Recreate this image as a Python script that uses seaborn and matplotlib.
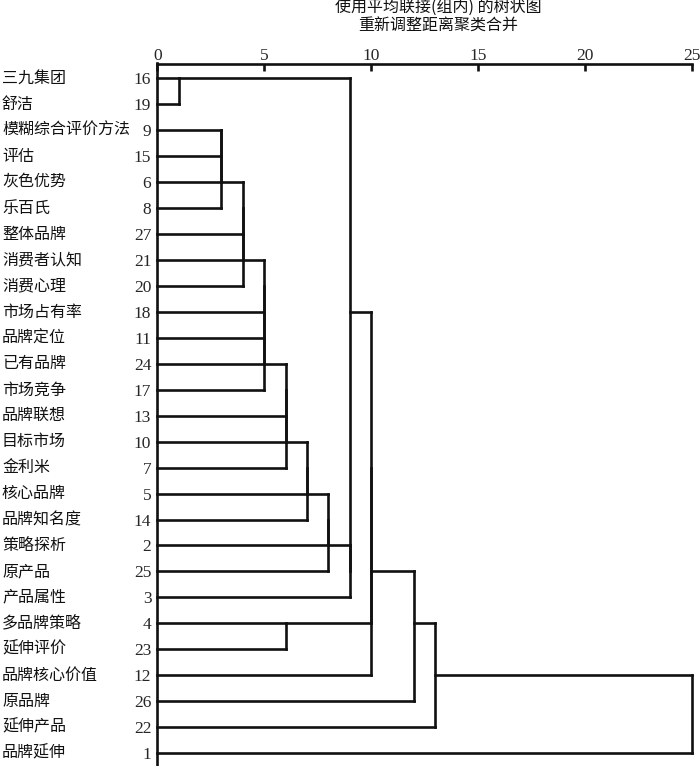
import numpy as np
import pandas as pd
import matplotlib
matplotlib.use("Agg")
import matplotlib.pyplot as plt
import matplotlib.transforms as mtransforms
import seaborn as sns

# ---------------- data ----------------
names = ["三九集团", "舒洁", "模糊综合评价方法", "评估", "灰色优势", "乐百氏",
         "整体品牌", "消费者认知", "消费心理", "市场占有率", "品牌定位", "已有品牌",
         "市场竞争", "品牌联想", "目标市场", "金利米", "核心品牌", "品牌知名度",
         "策略探析", "原产品", "产品属性", "多品牌策略", "延伸评价", "品牌核心价值",
         "原品牌", "延伸产品", "品牌延伸"]
case_ids = [16, 19, 9, 15, 6, 8, 27, 21, 20, 18, 11, 24, 17, 13, 10, 7, 5, 14,
            2, 25, 3, 4, 23, 12, 26, 22, 1]

# agglomeration schedule (clusters referenced by any member case), rescaled distance
merge_a = [16, 9, 9, 9, 9, 9, 9, 9, 9, 9, 9, 9, 9, 9, 4, 9, 9, 9, 9, 9, 16, 16, 16, 16, 16, 16]
merge_b = [19, 15, 6, 8, 27, 21, 20, 18, 11, 24, 17, 13, 10, 7, 23, 5, 14, 2, 25, 3, 9, 4, 12, 26, 22, 1]
merge_dist = [1, 3, 3, 3, 4, 4, 4, 5, 5, 5, 5, 6, 6, 6, 6, 7, 7, 8, 8, 9, 9, 10, 10, 12, 13, 25]

axis_ticks = [0, 5, 10, 15, 20, 25]
title1 = "使用平均联接(组内) 的树状图"
title2 = "重新调整距离聚类合并"

# ---------------- build dendrogram segments ----------------
row_of = {c: i for i, c in enumerate(case_ids)}
member_cluster = {c: c for c in case_ids}
cl_rep = {c: row_of[c] for c in case_ids}
cl_created = {c: 0.0 for c in case_ids}
cl_members = {c: [c] for c in case_ids}

recs = []
seg = 0
next_id = 1000
for a, b, d in zip(merge_a, merge_b, merge_dist):
    ca, cb = member_cluster[a], member_cluster[b]
    for c in (ca, cb):
        recs.append((seg, cl_created[c], cl_rep[c])); recs.append((seg, d, cl_rep[c])); seg += 1
    recs.append((seg, d, cl_rep[ca])); recs.append((seg, d, cl_rep[cb])); seg += 1
    nid = next_id; next_id += 1
    cl_rep[nid] = (cl_rep[ca] + cl_rep[cb]) // 2
    cl_created[nid] = d
    cl_members[nid] = cl_members[ca] + cl_members[cb]
    for m in cl_members[nid]:
        member_cluster[m] = nid

df = pd.DataFrame(recs, columns=["seg", "dist", "row"])

# ---------------- figure ----------------
sns.set_theme(style="white")
plt.rcParams["font.family"] = ["Noto Sans CJK SC", "DejaVu Sans"]

W, H = 700, 766
fig = plt.figure(figsize=(W / 100, H / 100), dpi=100)
x0px, x25px, toppx = 157.3, 691.7, 63.5
ax = fig.add_axes([x0px / W, 0, (x25px - x0px) / W, (H - toppx) / H])

sns.lineplot(data=df, x="dist", y="row", units="seg", estimator=None, sort=False,
             color="#111111", linewidth=1.9, legend=False, ax=ax,
             solid_capstyle="projecting")
for ln in ax.lines:
    ln.set_clip_on(False)

ax.set_xlim(0, 25)
ax.set_ylim(26.5, -0.578)
ax.set_xlabel("")
ax.set_ylabel("")

for s in ["bottom", "right"]:
    ax.spines[s].set_visible(False)
for s in ["top", "left"]:
    ax.spines[s].set_visible(True)
    ax.spines[s].set_color("#111111")
    ax.spines[s].set_linewidth(1.9)

ax.xaxis.tick_top()
ax.set_xticks(axis_ticks)
ax.set_xticklabels([str(t) for t in axis_ticks], fontfamily="Liberation Serif", fontsize=12.5)
ax.tick_params(axis="x", direction="in", length=5, width=1.9, color="#111111", pad=0)

ax.set_yticks(range(len(case_ids)))
ax.set_yticklabels([str(c) for c in case_ids], fontfamily="Liberation Serif", fontsize=12.5)
ax.tick_params(axis="y", length=0, pad=4.3)

trans = mtransforms.blended_transform_factory(fig.transFigure, ax.transData)
for i, nm in enumerate(names):
    ax.text(2 / W, i, nm, transform=trans, ha="left", va="center", fontsize=11.5,
            color="#111111")

fig.text(438 / W, 1 - 7.5 / H, title1, ha="center", va="center", fontsize=11.5, color="#111111")
fig.text(438 / W, 1 - 26.5 / H, title2, ha="center", va="center", fontsize=11.5, color="#111111")

fig.savefig("out.png", dpi=100)
